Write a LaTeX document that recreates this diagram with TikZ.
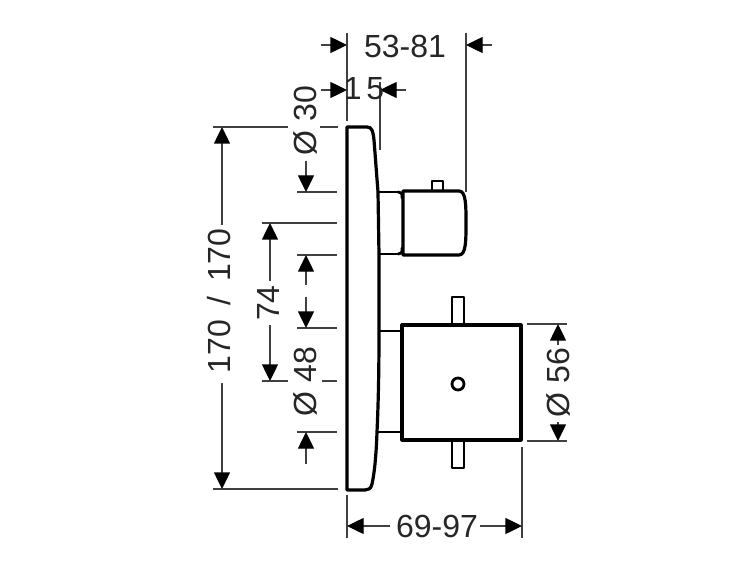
\documentclass[tikz,border=0pt]{standalone}
\usepackage{fontspec}
\setmainfont{Liberation Sans}
\usetikzlibrary{arrows.meta}
\definecolor{dimgray}{gray}{0.25}
\tikzset{
  x=0.75pt,y=-0.75pt,
  outline/.style={line width=2.4pt,black,line join=round,line cap=round},
  thinout/.style={line width=2.1pt,black,line join=round,line cap=round},
  dimline/.style={line width=1pt,dimgray},
  dimarrow/.style={line width=1pt,dimgray,-{Triangle[length=12.5pt,width=12pt,black]}},
  dimtext/.style={font=\fontsize{24pt}{26pt}\selectfont,text=black!85,inner sep=0pt},
  vtext/.style={dimtext,rotate=90}
}
\begin{document}
\begin{tikzpicture}
\useasboundingbox[fill=white] (0,0) rectangle (750,563);
% plate
\draw[outline] (347,490) -- (347,127) -- (367,127)
  .. controls (372,127) and (373,131) .. (374,140)
  -- (378,192) -- (379,255) -- (379,331)
  .. controls (379,380) and (378,410) .. (377,432)
  .. controls (376,460) and (374,475) .. (372,484)
  .. controls (371,489) and (368,490) .. (365,490) -- cycle;
% upper handle
\draw[thinout] (378,192) -- (398,192) (379,254) -- (398,254);
\draw[outline] (403,255) -- (403,191) -- (459,191)
  .. controls (466,191) and (466,205) .. (466,223)
  .. controls (466,241) and (466,255) .. (459,255) -- cycle;
\draw[thinout] (398,192) .. controls (402,193) .. (402,198);
\draw[thinout] (398,254) .. controls (402,253) .. (402,248);
\draw[thinout] (432,191) -- (432,181) -- (443,181) -- (443,191);
% lower handle
\draw[thinout] (379,331) -- (402,331) (378,432) -- (402,432);
\draw[outline] (402,325) rectangle (521,440);
\draw[thinout] (452,325) -- (452,297) -- (464,297) -- (464,325);
\draw[thinout] (452,440) -- (452,468) -- (464,468) -- (464,440);
\draw[thinout] (458,384) circle[radius=6];
% extension lines
\draw[dimline] (347,33) -- (347,121);
\draw[dimline] (466,33) -- (466,192);
\draw[dimline] (380,82) -- (380,150);
\draw[dimline] (213,127) -- (288,127) (320,127) -- (338,127);
\draw[dimline] (297,192) -- (337,192);
\draw[dimline] (262,223) -- (337,223);
\draw[dimline] (297,255) -- (337,255);
\draw[dimline] (297,328) -- (337,328);
\draw[dimline] (262,381) -- (288,381) (322,381) -- (337,381);
\draw[dimline] (297,432) -- (337,432);
\draw[dimline] (213,489) -- (338,489);
\draw[dimline] (527,324) -- (567,324) (527,441) -- (567,441);
\draw[dimline] (347,495) -- (347,538);
\draw[dimline] (522,447) -- (522,538);
% arrows
\draw[dimarrow] (321,45) -- (347,45);
\draw[dimarrow] (492,45) -- (466,45);
\draw[dimarrow] (321,90) -- (347,90);
\draw[dimarrow] (406,90) -- (380,90);
\draw[dimarrow] (306,161) -- (306,192);
\draw[dimarrow] (222,225) -- (222,127);
\draw[dimarrow] (222,383) -- (222,489);
\draw[dimarrow] (270,281) -- (270,223);
\draw[dimarrow] (270,325) -- (270,381);
\draw[dimarrow] (306,285) -- (306,255);
\draw[dimarrow] (306,297) -- (306,328);
\draw[dimarrow] (306,464) -- (306,432);
\draw[dimarrow] (558,345) -- (558,324);
\draw[dimarrow] (558,422) -- (558,441);
\draw[dimarrow] (390,526) -- (347,526);
\draw[dimarrow] (480,526) -- (522,526);
% labels
\node[dimtext] (t5381) at (405,46) {53-81};
\node[dimtext] (t15) at (364,89) {1\kern3.5pt 5};
\node[dimtext] (t6997) at (437,526) {69-97};
\node[vtext] (t30) at (305,121) {Ø\kern7pt 30};
\node[vtext] (t170) at (219,301) {170\kern11pt /\kern11pt 170};
\node[vtext] (t74) at (268,303) {74};
\node[vtext] (t48) at (305,382) {Ø\kern7pt 48};
\node[vtext] (t56) at (558,383) {Ø\kern7pt 56};
\end{tikzpicture}
\end{document}
